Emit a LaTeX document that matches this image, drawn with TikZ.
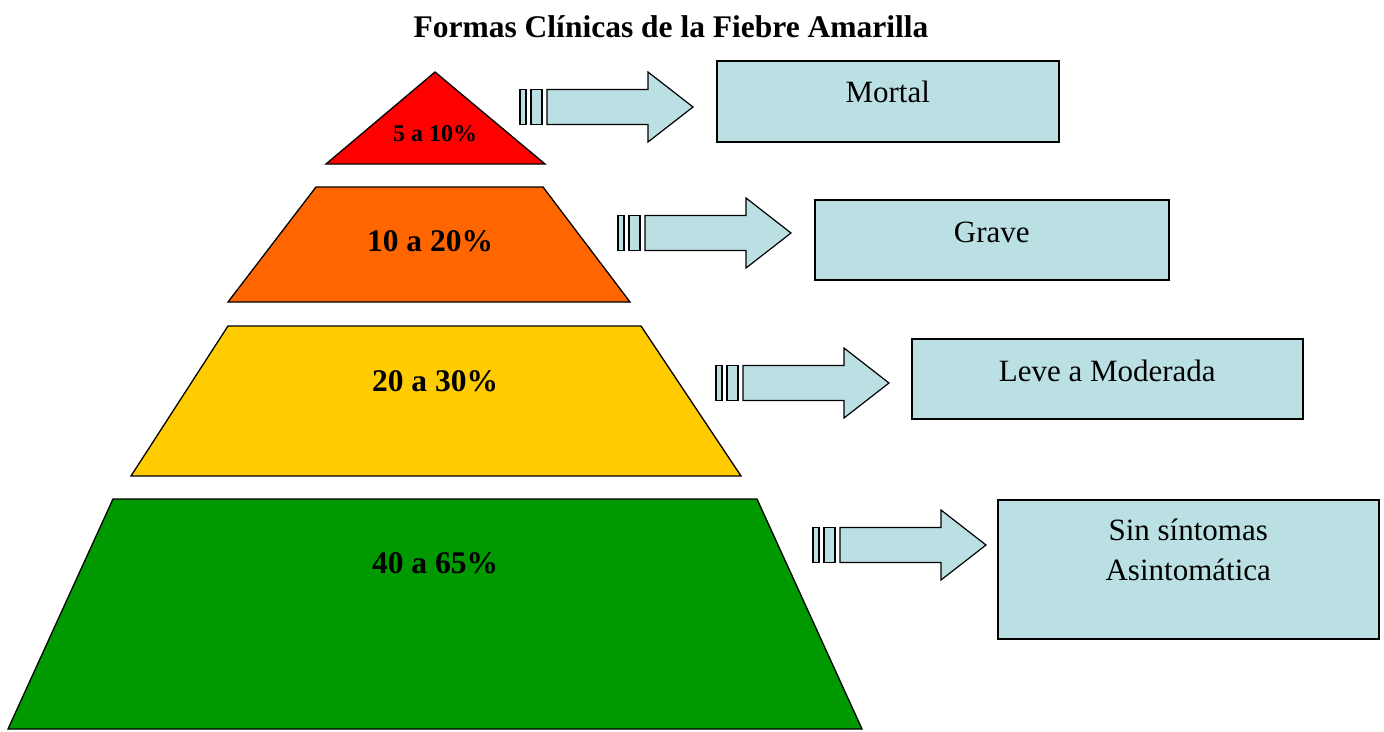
\documentclass[tikz,border=0pt]{standalone}
\usepackage{fontspec}
\setmainfont{Liberation Serif}
\usetikzlibrary{positioning}

\definecolor{boxblue}{RGB}{187,224,227}
\definecolor{mortalred}{RGB}{255,0,0}
\definecolor{graveorange}{RGB}{255,102,0}
\definecolor{leveyellow}{RGB}{255,204,0}
\definecolor{asintgreen}{RGB}{0,153,0}

\begin{document}
\begin{tikzpicture}[x=1pt,y=-1pt,
  layer/.style={draw=black,line width=1.3pt,line join=miter},
  pct/.style={font=\fontsize{31.5}{36}\selectfont\bfseries,anchor=base,inner sep=0pt},
  formbox/.style={draw=black,fill=boxblue,line width=1.5pt,anchor=north west,inner sep=0pt},
  formtext/.style={font=\fontsize{31}{40}\selectfont,anchor=base,align=center,inner sep=0pt},
  blockarrow/.style={draw=black,fill=boxblue,line width=1.2pt,line join=miter}]
  \useasboundingbox (0,0) rectangle (1384,731);

  % title
  \node[pct] (title) at (671,37) {Formas Clínicas de la Fiebre Amarilla};

  % pyramid
  \filldraw[layer,fill=mortalred] (435,72) -- (545,164) -- (326,164) -- cycle;
  \filldraw[layer,fill=graveorange] (316,187) -- (543,187) -- (630,302) -- (228,302) -- cycle;
  \filldraw[layer,fill=leveyellow] (228,326) -- (641,326) -- (741,476) -- (131,476) -- cycle;
  \filldraw[layer,fill=asintgreen] (113,499) -- (757,499) -- (862,729) -- (8,729) -- cycle;

  \node[pct,font=\fontsize{24}{28}\selectfont\bfseries] (p1) at (435,141) {5 a 10\%};
  \node[pct] (p2) at (430,251) {10 a 20\%};
  \node[pct] (p3) at (435,391) {20 a 30\%};
  \node[pct] (p4) at (435,573) {40 a 65\%};

  % striped arrows
  \foreach \ax/\ay in {520/107, 618/233, 716/383, 813/545} {
    \filldraw[blockarrow] (\ax,\ay-17.5) rectangle (\ax+6,\ay+17.5);
    \filldraw[blockarrow] (\ax+11,\ay-17.5) rectangle (\ax+22,\ay+17.5);
    \filldraw[blockarrow] (\ax+27,\ay-17.5) -- (\ax+128,\ay-17.5) -- (\ax+128,\ay-35)
      -- (\ax+173,\ay) -- (\ax+128,\ay+35) -- (\ax+128,\ay+17.5) -- (\ax+27,\ay+17.5) -- cycle;
  }

  % clinical forms
  \node[formbox,minimum width=342,minimum height=81] (mortal) at (716,60) {};
  \node[formbox,minimum width=354,minimum height=80] (grave) at (814,199) {};
  \node[formbox,minimum width=391,minimum height=80] (leve) at (911,338) {};
  \node[formbox,minimum width=381,minimum height=139] (asint) at (997,499) {};

  \node[formtext] (t1) at (mortal.north |- 0,102) {Mortal};
  \node[formtext] (t2) at (grave.north |- 0,242) {Grave};
  \node[formtext] (t3) at (leve.north |- 0,381) {Leve a Moderada};
  \node[formtext] (t4) at (asint.north |- 0,580) {Sin síntomas\\Asintomática};
\end{tikzpicture}
\end{document}
